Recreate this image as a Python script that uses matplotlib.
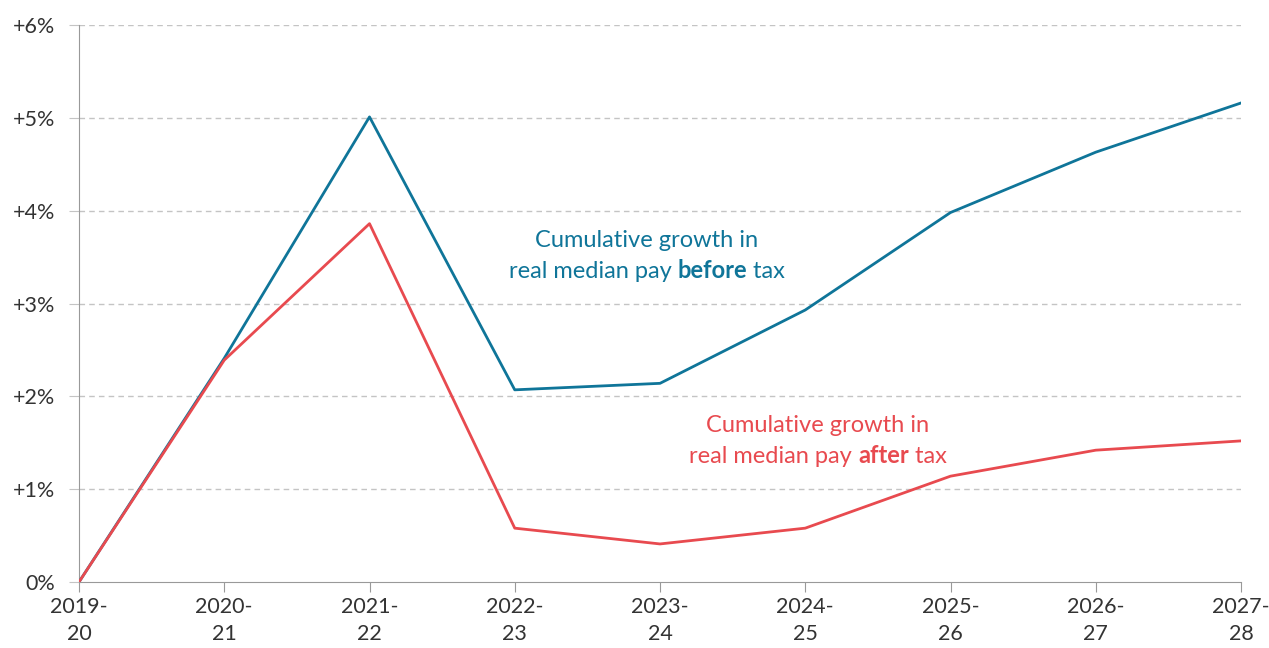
import numpy as np
import matplotlib
matplotlib.use("Agg")
import matplotlib.pyplot as plt
from matplotlib.offsetbox import TextArea, HPacker, VPacker, AnnotationBbox

#===========================
# DATA
#===========================
years = ["2019-\n20", "2020-\n21", "2021-\n22", "2022-\n23", "2023-\n24",
         "2024-\n25", "2025-\n26", "2026-\n27", "2027-\n28"]
before_tax = [0.0, 2.41, 5.01, 2.07, 2.14, 2.93, 3.98, 4.63, 5.16]
after_tax = [0.0, 2.39, 3.86, 0.58, 0.41, 0.58, 1.14, 1.42, 1.52]
yticks = [0, 1, 2, 3, 4, 5, 6]
ylabels = ["0%", "+1%", "+2%", "+3%", "+4%", "+5%", "+6%"]

BLUE = "#0F7599"
RED = "#E84A4F"
GREY = "#999999"
TXT = "#333333"

plt.rcParams['font.family'] = ['Lato', 'DejaVu Sans']

#===========================
# PLOT
#===========================
fig = plt.figure(figsize=(12.69, 6.48), dpi=100)
ax = fig.add_axes([79/1269, 66/648, (1241-79)/1269, (582-25)/648])

x = np.arange(len(years))
ax.plot(x, before_tax, color=BLUE, lw=2, zorder=3)
ax.plot(x, after_tax, color=RED, lw=2, zorder=3)

ax.set_xlim(0, len(years)-1)
ax.set_ylim(0, 6)
ax.set_xticks(x)
ax.set_xticklabels(years, fontsize=15.5, color=TXT, linespacing=1.4)
ax.set_yticks(yticks)
ax.set_yticklabels(ylabels, fontsize=15.5, color=TXT)

# grid
for yv in yticks[1:]:
    ax.axhline(yv, color="#c4c4c4", lw=1, ls=(0, (4, 3)), zorder=1)

for s in ["top", "right"]:
    ax.spines[s].set_visible(False)
ax.spines["left"].set_color(GREY)
ax.spines["bottom"].set_color(GREY)
ax.tick_params(axis="x", length=7, color=GREY, pad=4)
ax.tick_params(axis="y", length=7, color="#c4c4c4", pad=10)
ax.spines["left"].set_zorder(2)


#*********** labels with bold word ***********
def label(xy, word, color):
    kw = dict(color=color, fontsize=17)
    l1 = TextArea("Cumulative growth in", textprops=kw)
    a = TextArea("real median pay ", textprops=kw)
    b = TextArea(word, textprops=dict(kw, fontweight="bold"))
    c = TextArea(" tax", textprops=kw)
    l2 = HPacker(children=[a, b, c], align="baseline", pad=0, sep=0)
    box = VPacker(children=[l1, l2], align="center", pad=0, sep=6)
    ab = AnnotationBbox(box, xy, xycoords="figure pixels", frameon=False,
                        box_alignment=(0.5, 0.5))
    fig.add_artist(ab)

label((647, 648-256), "before", BLUE)
label((818, 648-441), "after", RED)

fig.savefig("out.png", dpi=100)
